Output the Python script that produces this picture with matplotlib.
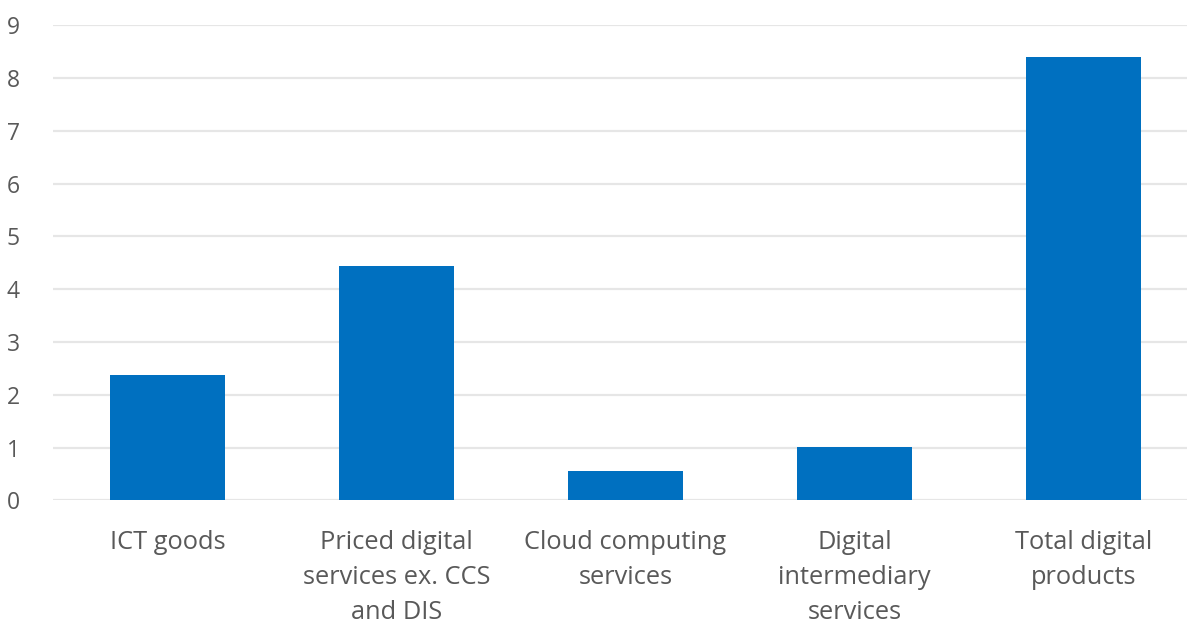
import matplotlib.pyplot as plt

categories = [
    'ICT goods',
    'Priced digital\nservices ex. CCS\nand DIS',
    'Cloud computing\nservices',
    'Digital\nintermediary\nservices',
    'Total digital\nproducts',
]
values = [2.37, 4.44, 0.55, 1.02, 8.40]
y_ticks = list(range(0, 10))

bar_color = '#0070C0'
text_color = '#595959'
grid_color = '#e6e6e6'

plt.rcParams['font.family'] = ['Open Sans', 'DejaVu Sans']

fig = plt.figure(figsize=(11.87, 6.24), dpi=100)
ax = fig.add_axes([53 / 1187, 0.198, 1145 / 1187, 0.7615])

x = range(len(categories))
ax.bar(x, values, width=0.505, color=bar_color, zorder=3)

ax.set_xlim(-0.5, len(categories) - 0.5)
ax.set_ylim(0, 9)
ax.set_yticks(y_ticks)
ax.set_yticklabels([str(t) for t in y_ticks], fontsize=16.5, color=text_color)
ax.set_xticks(list(x))
ax.set_xticklabels(categories, fontsize=18.3, color=text_color, linespacing=1.53)

ax.tick_params(axis='both', length=0)
ax.tick_params(axis='y', pad=24)
ax.tick_params(axis='x', pad=21)
ax.yaxis.grid(True, color=grid_color, linewidth=1.6, zorder=0)
for side in ax.spines.values():
    side.set_visible(False)

fig.savefig('out.png', dpi=100)
